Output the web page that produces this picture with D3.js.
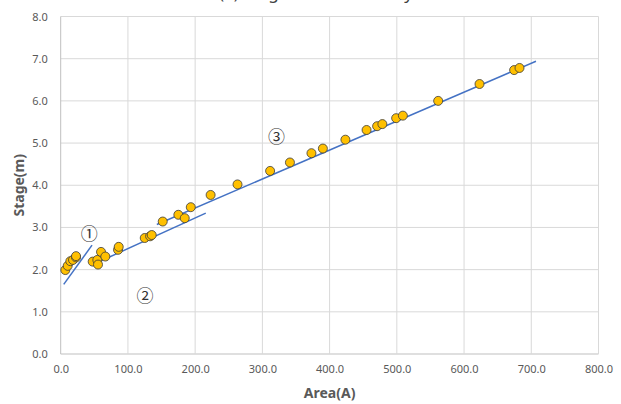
<!DOCTYPE html>
<html>
<head>
<meta charset="utf-8">
<script src="https://cdn.jsdelivr.net/npm/d3@7"></script>
<style>
  body { margin: 0; background: #fff; }
  svg text { font-family: "Noto Sans", "Open Sans", sans-serif; }
</style>
</head>
<body>
<svg id="chart" width="621" height="404"></svg>
<script>
// observed points (area, stage)
var area  = [6.9, 10.4, 14.3, 18.3, 22.8, 22.8, 47.6, 54.5, 55.5, 60, 66.4, 85.3, 86.3, 125, 133, 135.4,
             151.8, 175, 184.5, 193.5, 223, 263, 311.5, 341, 373, 390, 423.5, 455, 470.7, 478.5, 499, 509,
             561.5, 623, 674.5, 682.5];
var stage = [1.99, 2.09, 2.20, 2.23, 2.29, 2.32, 2.19, 2.23, 2.12, 2.42, 2.31, 2.47, 2.54, 2.75, 2.79, 2.82,
             3.14, 3.30, 3.22, 3.48, 3.77, 4.02, 4.34, 4.54, 4.76, 4.87, 5.08, 5.31, 5.40, 5.45, 5.59, 5.65,
             6.00, 6.40, 6.73, 6.78];

// fitted segments [x1, y1, x2, y2]
var segments = [
  [4.5, 1.65, 46.6, 2.58],
  [52, 2.15, 215.8, 3.34],
  [143, 3.07, 707, 6.94]
];

// circled labels
var labelText = ["①", "②", "③"];
var labelX = [42.6, 125.5, 321];
var labelY = [2.88, 1.40, 5.18];

var xTicks = [0, 100, 200, 300, 400, 500, 600, 700, 800];
var yTicks = [0, 1, 2, 3, 4, 5, 6, 7, 8];

var svg = d3.select("#chart");
var pLeft = 60.7, pRight = 598.5, pTop = 16.5, pBottom = 354;

var x = d3.scaleLinear().domain([0, 800]).range([pLeft, pRight]);
var y = d3.scaleLinear().domain([0, 8]).range([pBottom, pTop]);

// title (cut off at top, only descenders show)
svg.append("text")
  .attr("x", 316).attr("y", -1.5)
  .attr("text-anchor", "middle")
  .style("font-size", "17px").style("fill", "#404040")
  .text("(a) Stage-Area Boundary");

// grid
svg.append("g").selectAll("line").data(yTicks).enter().append("line")
  .attr("x1", pLeft).attr("x2", pRight)
  .attr("y1", function(d){ return y(d); }).attr("y2", function(d){ return y(d); })
  .style("stroke", function(d){ return d === 0 ? "#bfbfbf" : "#d9d9d9"; })
  .style("stroke-width", 1);
svg.append("g").selectAll("line").data(xTicks).enter().append("line")
  .attr("y1", pTop).attr("y2", pBottom)
  .attr("x1", function(d){ return x(d); }).attr("x2", function(d){ return x(d); })
  .style("stroke", function(d){ return d === 0 ? "#bfbfbf" : "#d9d9d9"; })
  .style("stroke-width", 1);

// axes (labels only)
var xAxis = svg.append("g").attr("transform", "translate(0," + pBottom + ")")
  .call(d3.axisBottom(x).tickValues(xTicks).tickFormat(d3.format(".1f")).tickSize(0).tickPadding(11));
var yAxis = svg.append("g").attr("transform", "translate(" + pLeft + ",0)")
  .call(d3.axisLeft(y).tickValues(yTicks).tickFormat(d3.format(".1f")).tickSize(0).tickPadding(13));
[xAxis, yAxis].forEach(function(a){
  a.select(".domain").remove();
  a.selectAll("text").style("font-size", "11px").style("fill", "#595959")
    .style("font-family", "'Noto Sans', sans-serif");
});

// axis titles
svg.append("text")
  .attr("x", (pLeft + pRight) / 2).attr("y", 398)
  .attr("text-anchor", "middle")
  .style("font-size", "14px").style("font-weight", "bold").style("fill", "#595959")
  .text("Area(A)");
svg.append("text")
  .attr("transform", "translate(24," + ((pTop + pBottom) / 2) + ") rotate(-90)")
  .attr("text-anchor", "middle")
  .style("font-size", "14px").style("font-weight", "bold").style("fill", "#595959")
  .text("Stage(m)");

// fit lines
svg.append("g").selectAll("line").data(segments).enter().append("line")
  .attr("x1", function(d){ return x(d[0]); }).attr("y1", function(d){ return y(d[1]); })
  .attr("x2", function(d){ return x(d[2]); }).attr("y2", function(d){ return y(d[3]); })
  .style("stroke", "#4472C4").style("stroke-width", 1.5);

// points
svg.append("g").selectAll("circle").data(area).enter().append("circle")
  .attr("cx", function(d){ return x(d); })
  .attr("cy", function(d, i){ return y(stage[i]); })
  .attr("r", 4.5)
  .style("fill", "#FFC000").style("stroke", "#3a3a3a").style("stroke-width", 0.8);

// circled numbers
svg.append("g").selectAll("text").data(labelText).enter().append("text")
  .attr("x", function(d, i){ return x(labelX[i]); })
  .attr("y", function(d, i){ return y(labelY[i]); })
  .attr("text-anchor", "middle").attr("dominant-baseline", "central")
  .style("font-family", "'Noto Sans CJK KR', 'DejaVu Sans', sans-serif")
  .style("font-size", "17px").style("fill", "#333")
  .text(function(d){ return d; });
</script>
</body>
</html>
